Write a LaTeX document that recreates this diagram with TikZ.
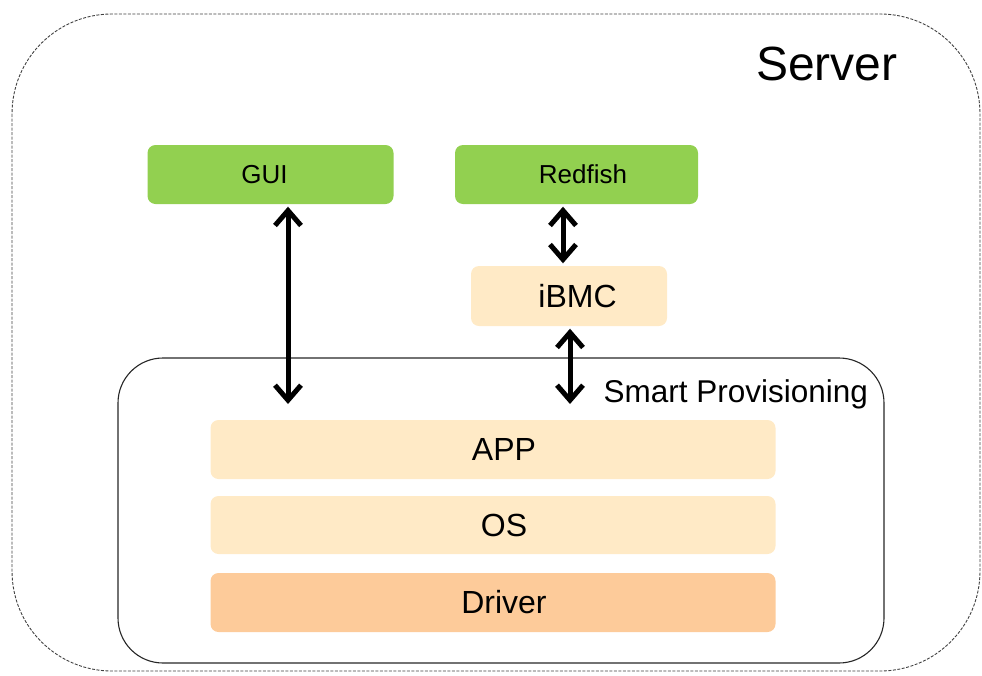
\documentclass[tikz,border=0pt]{standalone}
\usepackage{fontspec}
\setmainfont{Liberation Sans}
\usetikzlibrary{arrows.meta}
\definecolor{boxgreen}{HTML}{92D050}
\definecolor{lightpeach}{HTML}{FFEAC6}
\definecolor{darkpeach}{HTML}{FDCB9A}
\begin{document}
\begin{tikzpicture}[x=1pt,y=-1pt,
  box/.style={rounded corners=8pt, minimum width=#1, inner sep=0pt},
  greenbox/.style={box=#1, fill=boxgreen, minimum height=59pt, font=\fontsize{26}{30}\selectfont},
  layerbox/.style={box=#1, fill=lightpeach, minimum height=59pt, font=\fontsize{32}{36}\selectfont},
  link/.style={line width=5pt, {Straight Barb[length=15pt,width=26pt]}-{Straight Barb[length=15pt,width=26pt]}, shorten <=2.5pt, shorten >=2.5pt}
]
\useasboundingbox (0,0) rectangle (982,675);
% server frame
\draw[dashed, dash pattern=on 3pt off 1.5pt, line width=0.9pt, black!75, rounded corners=100pt] (12,14) rectangle (980,671);
\node[anchor=base east, font=\fontsize{48}{56}\selectfont] (server) at (901,80) {Server};
% smart provisioning frame
\draw[line width=1.1pt, black!85, rounded corners=45pt] (118,358) rectangle (884,663);
\node[anchor=base west, font=\fontsize{31.5}{36}\selectfont] (sp) at (600,402) {Smart Provisioning};
% boxes
\node[greenbox=246pt] (gui) at (270.5,174.5) {GUI\hspace*{12pt}};
\node[greenbox=243pt] (redfish) at (576.5,174.5) {\hspace*{13pt}Redfish};
\node[layerbox=196pt, minimum height=60pt] (ibmc) at (569,296) {\hspace*{17pt}iBMC};
\node[layerbox=565pt] (app) at (493,449.5) {\hspace*{22pt}APP};
\node[layerbox=565pt, minimum height=58pt] (os) at (493,525) {\hspace*{22pt}OS};
\node[layerbox=565pt, fill=darkpeach] (driver) at (493,602.5) {\hspace*{22pt}Driver};
% connectors
\coordinate (guiend) at (288,404);
\coordinate (ibmcend) at (570,404);
\draw[link, shorten >=0pt] ([xshift=17.5pt]gui.south) -- (guiend);
\draw[link] ([xshift=-13.5pt]redfish.south) -- ([xshift=-6pt]ibmc.north);
\draw[link, shorten >=0pt] ([xshift=1pt]ibmc.south) -- (ibmcend);
\end{tikzpicture}
\end{document}
